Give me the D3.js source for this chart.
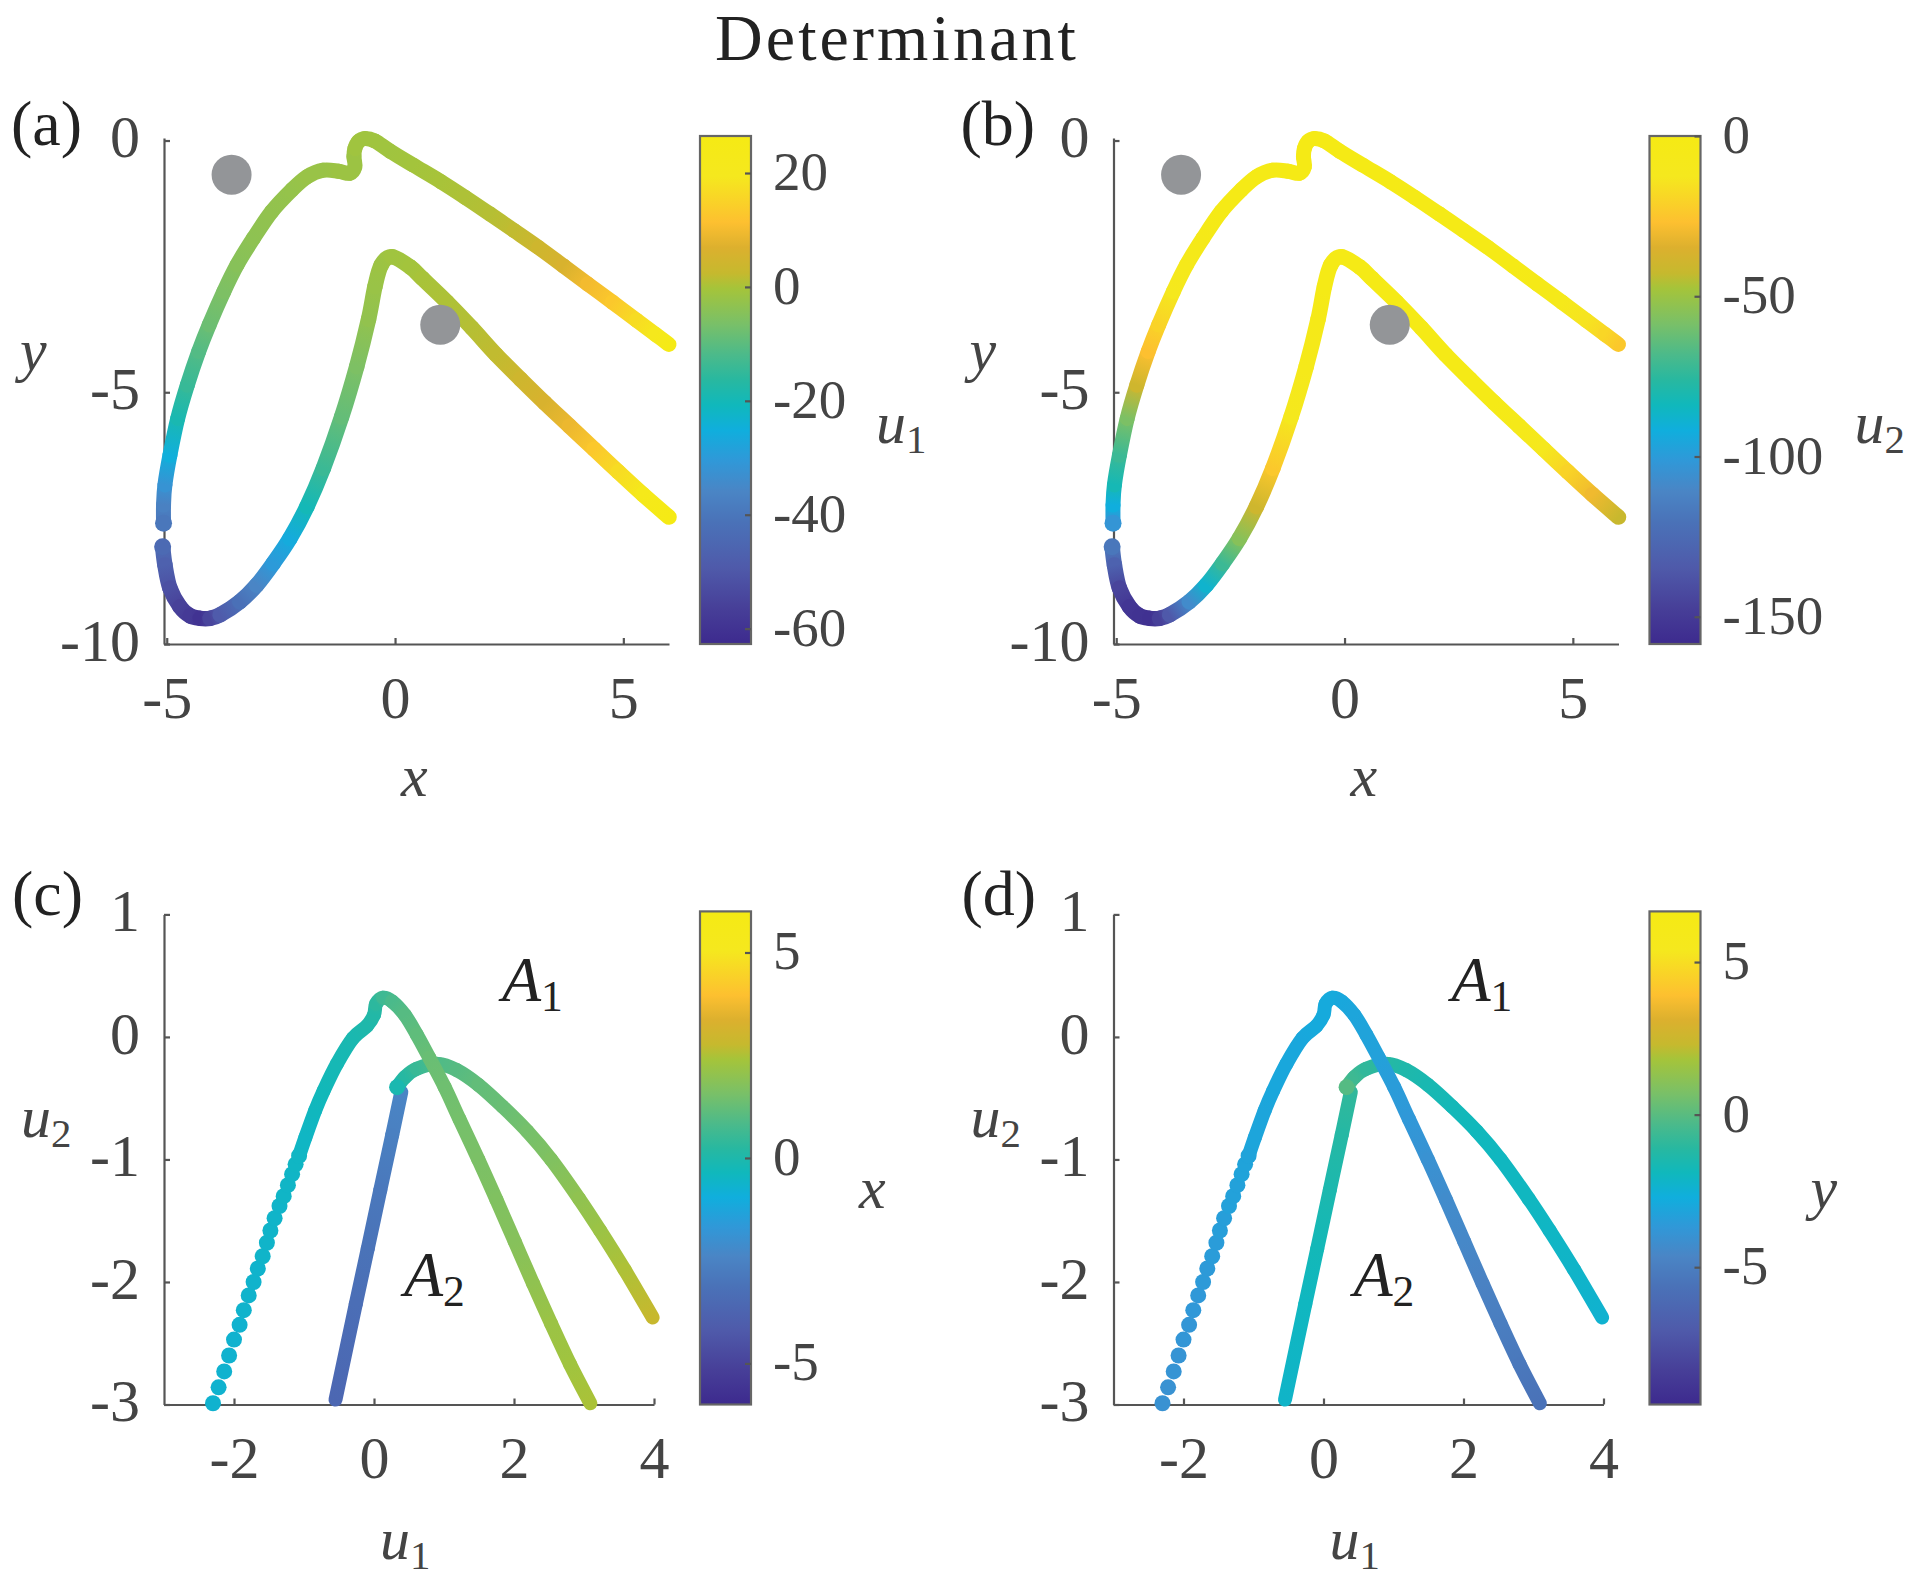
<!DOCTYPE html>
<html>
<head>
<meta charset="utf-8">
<script src="https://cdn.jsdelivr.net/npm/d3@7"></script>
<style>
  body { margin: 0; background: #fff; }
  text { font-family: "Liberation Serif", serif; fill: #444; }
</style>
</head>
<body>
<svg width="1920" height="1580"></svg>
<script>
// upper branch, panels (a) and (b)
const upperX = [-5.07,-5.07,-5.04,-4.93,-4.76,-4.55,-4.30,-4.07,-3.75,-3.46,-3.10,-2.70,-2.26,-1.93,-1.57,-1.24,-0.99,-0.88,-0.90,-0.88,-0.80,-0.66,-0.44,-0.11,0.40,1.01,1.54,2.08,2.61,3.15,3.69,4.22,4.76,5.29,5.70,6.00];
const upperY = [-7.60,-7.24,-6.84,-6.25,-5.52,-4.86,-4.19,-3.66,-3.00,-2.47,-1.94,-1.41,-0.98,-0.72,-0.59,-0.61,-0.65,-0.52,-0.32,-0.16,-0.02,0.04,-0.01,-0.21,-0.49,-0.82,-1.13,-1.46,-1.79,-2.13,-2.49,-2.85,-3.21,-3.57,-3.85,-4.05];
const upperU1 = [-40,-37,-32,-25,-19,-14.5,-11,-8,-6,-4.5,-3.5,-3,-2.5,-2,-2,-1.5,-1.5,-1.5,-1.5,-1,-1,-1,-1,-1,-0.5,0,0.5,1,2,4,6,10,13,17,21,25];
const upperU2 = [-103,-92,-82,-72,-58,-40,-27,-20,-11,-7,-5,-3,-2,-2,-2,-1,-1,-1,-1,-1,-1,-1,-1,-1,-1,-1,-2,-2,-2,-2,-3,-4,-8,-14,-19,-24];

// lower branch, panels (a) and (b)
const lowerX = [-5.09,-5.04,-4.93,-4.71,-4.49,-4.27,-4.05,-3.83,-3.40,-3.03,-2.67,-2.30,-1.93,-1.57,-1.17,-0.84,-0.58,-0.44,-0.30,-0.07,0.33,0.60,1.14,1.68,2.21,2.75,3.28,3.82,4.36,4.89,5.43,6.00];
const lowerY = [-8.07,-8.43,-8.89,-9.26,-9.44,-9.49,-9.49,-9.42,-9.16,-8.83,-8.40,-7.90,-7.27,-6.51,-5.49,-4.49,-3.55,-2.90,-2.47,-2.31,-2.51,-2.74,-3.21,-3.72,-4.25,-4.74,-5.21,-5.67,-6.13,-6.58,-7.03,-7.48];
const lowerU1 = [-44,-47,-52,-56,-58,-60,-55,-49,-42,-36,-30,-26,-20,-14,-9,-6,-3,-2,-1.5,-1,-0.5,0,0.5,1,2,4,6,9,13,17,22,26];
const lowerU2 = [-118,-130,-145,-152,-154,-155,-147,-135,-108,-88,-72,-55,-40,-24,-12,-8,-5,-3,-3,-2,-2,-2,-2,-2,-3,-3,-3,-6,-11,-20,-30,-42];

// separate dots at the bottom left of panels (c) and (d)
const dotsU1 = [-2.30,-2.22,-2.14,-2.07,-2.00,-1.92,-1.86,-1.79,-1.72,-1.66,-1.59,-1.53,-1.48,-1.42,-1.35,-1.29,-1.23,-1.17,-1.12,-1.07];
const dotsU2 = [-2.99,-2.86,-2.73,-2.60,-2.47,-2.35,-2.23,-2.11,-2.00,-1.89,-1.79,-1.68,-1.58,-1.48,-1.38,-1.30,-1.21,-1.12,-1.04,-0.97];
const dotsX = [-0.7,-0.7,-0.7,-0.7,-0.7,-0.7,-0.65,-0.65,-0.65,-0.65,-0.6,-0.6,-0.6,-0.6,-0.6,-0.55,-0.55,-0.55,-0.5,-0.5];
const dotsY = [-4.0,-4.0,-3.9,-3.9,-3.8,-3.8,-3.7,-3.7,-3.6,-3.6,-3.5,-3.5,-3.4,-3.4,-3.3,-3.3,-3.3,-3.2,-3.2,-3.2];

// arc over the top of panels (c) and (d)
const arcU1 = [-1.07,-0.98,-0.84,-0.72,-0.53,-0.30,-0.10,0.00,0.03,0.13,0.26,0.44,0.61,0.79,1.01,1.22,1.49,1.75,2.01,2.27,2.53,2.80,3.09];
const arcU2 = [-0.97,-0.82,-0.60,-0.44,-0.22,-0.01,0.09,0.18,0.27,0.32,0.29,0.18,0.02,-0.17,-0.41,-0.67,-1.00,-1.33,-1.67,-2.01,-2.34,-2.67,-2.99];
const arcX = [-0.5,-0.5,-0.4,-0.3,-0.2,-0.1,0,0.1,0.3,0.6,0.8,1.0,1.15,1.3,1.4,1.5,1.6,1.7,1.8,2.0,2.2,2.3,2.45];
const arcY = [-3.1,-3.1,-3.1,-3.0,-3.0,-3.0,-2.9,-2.9,-2.9,-2.9,-3.0,-3.1,-3.2,-3.3,-3.5,-3.7,-4.0,-4.3,-4.5,-4.8,-5.0,-5.3,-5.6];

// hook going down to the right
const hookU1 = [0.33,0.44,0.61,0.92,1.18,1.49,1.84,2.19,2.53,2.93,3.23,3.58,3.98];
const hookU2 = [-0.41,-0.33,-0.26,-0.22,-0.27,-0.39,-0.57,-0.77,-1.00,-1.32,-1.58,-1.90,-2.29];
const hookX = [-0.1,0.2,0.5,0.9,1.0,1.2,1.3,1.5,1.7,2.0,2.2,2.5,2.8];
const hookY = [-0.1,-0.6,-0.9,-1.2,-1.4,-1.6,-1.8,-1.9,-2.0,-2.0,-2.1,-2.2,-2.4];

// straight stem
const stemU1 = [0.39,0.26,0.09,-0.09,-0.26,-0.55];
const stemU2 = [-0.45,-0.80,-1.25,-1.73,-2.18,-2.96];
const stemX = [-2.4,-2.6,-2.9,-3.1,-3.3,-3.6];
const stemY = [-0.9,-1.2,-1.5,-1.8,-2.0,-2.2];

// grey markers in (a) and (b)
const markerX = [-3.58, 0.99];
const markerY = [-0.68, -3.66];

// axis ticks
const xyTicksX = [-5, 0, 5];
const xyTicksY = [0, -5, -10];
const uTicksX = [-2, 0, 2, 4];
const uTicksY = [1, 0, -1, -2, -3];

// colour bars
const barA = { domain: [-62.7, 26.5], ticks: [20, 0, -20, -40, -60] };
const barB = { domain: [-158.5, 0], ticks: [0, -50, -100, -150] };
const barC = { domain: [-6, 6], ticks: [5, 0, -5] };
const barD = { domain: [-9.5, 6.66], ticks: [5, 0, -5] };

const mapStops = [0,0.08,0.17,0.22,0.27,0.30,0.37,0.43,0.48,0.53,0.58,0.64,0.70,0.76,0.85,0.93,1];
const mapColors = ["#f5ea14","#f5e81e","#fdc030","#dcb02e","#c6b92e","#a5c43a","#79c068","#4cba8a","#28b8a0","#10b8bc","#10aedd","#3098d8","#4a85c5","#4a72b8","#4f5aaa","#473f98","#3d2a8e"];

const svg = d3.select("svg");
const defs = svg.append("defs");
const axisFont = 60;
const barFont = 55;
const mathFont = 60;
const dotR = 8;
const offsetB = 949.5;
let gradId = 0;

function makeColor(bar) {
  const frac = d3.scaleLinear().domain([bar.domain[1], bar.domain[0]]).range([0, 1]);
  const map = d3.scaleLinear().domain(mapStops).range(mapColors);
  return v => map(frac(v));
}

// one coloured path: every piece is a Catmull-Rom bezier with its own gradient
function drawPath(g, xs, ys, vs, x, y, color, width) {
  const pts = xs.map((d, i) => [x(d), y(ys[i])]);
  for (let i = 0; i < pts.length - 1; i++) {
    const id = "seg" + gradId++;
    const p0 = pts[Math.max(i - 1, 0)], p1 = pts[i], p2 = pts[i + 1], p3 = pts[Math.min(i + 2, pts.length - 1)];
    const c1 = [p1[0] + (p2[0] - p0[0]) / 6, p1[1] + (p2[1] - p0[1]) / 6];
    const c2 = [p2[0] - (p3[0] - p1[0]) / 6, p2[1] - (p3[1] - p1[1]) / 6];
    const grad = defs.append("linearGradient").attr("id", id)
      .attr("gradientUnits", "userSpaceOnUse")
      .attr("x1", p1[0]).attr("y1", p1[1]).attr("x2", p2[0]).attr("y2", p2[1]);
    grad.append("stop").attr("offset", 0).attr("stop-color", color(vs[i]));
    grad.append("stop").attr("offset", 1).attr("stop-color", color(vs[i + 1]));
    g.append("path")
      .attr("d", `M${p1}C${c1} ${c2} ${p2}`)
      .attr("fill", "none")
      .attr("stroke", `url(#${id})`)
      .attr("stroke-width", width)
      .attr("stroke-linecap", "round");
  }
}

function drawDot(g, px, py, fill, r) {
  g.append("circle").attr("cx", px).attr("cy", py).attr("r", r).attr("fill", fill);
}

function styleAxis(a, size) {
  a.selectAll("path, line").attr("stroke", "#555").attr("stroke-width", 2.2);
  a.selectAll("text").attr("font-size", size).style("fill", "#444");
}

function axes(g, x, y, ticksX, ticksY) {
  const bottom = g.append("g").attr("transform", `translate(0,${y.range()[0]})`)
    .call(d3.axisBottom(x).tickValues(ticksX).tickFormat(String).tickSize(-6).tickSizeOuter(0).tickPadding(31));
  const left = g.append("g").attr("transform", `translate(${x.range()[0]},0)`)
    .call(d3.axisLeft(y).tickValues(ticksY).tickFormat(String).tickSize(-6).tickSizeOuter(0).tickPadding(24));
  styleAxis(bottom, axisFont);
  styleAxis(left, axisFont);
  left.selectAll("text").attr("dy", "0.27em");
}

function colorbar(g, bar, top, bottom) {
  const id = "bar" + gradId++;
  const grad = defs.append("linearGradient").attr("id", id).attr("x1", 0).attr("y1", 0).attr("x2", 0).attr("y2", 1);
  mapStops.forEach((s, i) => grad.append("stop").attr("offset", s).attr("stop-color", mapColors[i]));
  g.append("rect").attr("x", 700).attr("y", top).attr("width", 51).attr("height", bottom - top)
    .attr("fill", `url(#${id})`).attr("stroke", "#666").attr("stroke-width", 2.2);
  const scale = d3.scaleLinear().domain(bar.domain).range([bottom, top]);
  const a = g.append("g").attr("transform", "translate(751,0)")
    .call(d3.axisRight(scale).tickValues(bar.ticks).tickFormat(String).tickSize(-6).tickSizeOuter(0).tickPadding(22));
  a.select(".domain").remove();
  styleAxis(a, barFont);
  a.selectAll("text").attr("dy", "0.3em");
}

function mathLabel(g, px, py, name, sub, size = mathFont, fill = "#444") {
  const t = g.append("text").attr("x", px).attr("y", py).attr("font-size", size)
    .attr("font-style", "italic").style("fill", fill).text(name);
  if (sub) {
    t.append("tspan").attr("font-style", "normal").attr("font-size", size * 0.68)
      .attr("dy", size * 0.16).text(sub);
  }
  return t;
}

function panelLabel(g, px, py, s) {
  g.append("text").attr("x", px).attr("y", py).attr("font-size", 64).style("fill", "#222").text(s);
}

function xyPanel(dx, name, upperV, lowerV, bar, cbName, cbSub, cbX) {
  const g = svg.append("g").attr("transform", `translate(${dx},0)`);
  const x = d3.scaleLinear().domain([-5.06, 6]).range([164, 669]);
  const y = d3.scaleLinear().domain([-10, 0.05]).range([644, 138]);
  const color = makeColor(bar);
  axes(g, x, y, xyTicksX, xyTicksY);
  drawPath(g, lowerX, lowerY, lowerV, x, y, color, 15.5);
  drawPath(g, upperX, upperY, upperV, x, y, color, 15);
  drawDot(g, x(upperX[0]), y(upperY[0]), color(upperV[0]), 8.5);
  drawDot(g, x(lowerX[0]), y(lowerY[0]), color(lowerV[0]), 8.5);
  g.selectAll("circle.marker").data(markerX).enter().append("circle").attr("class", "marker")
    .attr("cx", d => x(d)).attr("cy", (d, i) => y(markerY[i])).attr("r", 20).attr("fill", "#939598");
  colorbar(g, bar, 136, 644);
  panelLabel(g, 11, 145, name);
  mathLabel(g, 401, 796, "x");
  mathLabel(g, 20, 370, "y");
  mathLabel(g, cbX, 443, cbName, cbSub);
}

function uPanel(dx, name, dotsV, arcV, hookV, stemV, bar, cbName, cbX) {
  const g = svg.append("g").attr("transform", `translate(${dx},0)`);
  const x = d3.scaleLinear().domain([-3, 4]).range([164, 654]);
  const y = d3.scaleLinear().domain([-3, 1]).range([1404.5, 914.4]);
  const color = makeColor(bar);
  axes(g, x, y, uTicksX, uTicksY);
  drawPath(g, stemU1, stemU2, stemV, x, y, color, 14);
  drawPath(g, hookU1, hookU2, hookV, x, y, color, 14);
  drawDot(g, x(hookU1[0]), y(hookU2[0]), color(hookV[0]), dotR);
  drawPath(g, arcU1, arcU2, arcV, x, y, color, 14);
  g.selectAll("circle.dot").data(dotsU1).enter().append("circle").attr("class", "dot")
    .attr("cx", d => x(d)).attr("cy", (d, i) => y(dotsU2[i])).attr("r", dotR)
    .attr("fill", (d, i) => color(dotsV[i]));
  colorbar(g, bar, 911.4, 1404.5);
  panelLabel(g, 12, 915, name);
  mathLabel(g, 380, 1559, "u", "1");
  mathLabel(g, 21, 1137, "u", "2");
  mathLabel(g, cbX, 1208, cbName);
  mathLabel(g, 502, 1001, "A", "1", 64, "#222");
  mathLabel(g, 404, 1296, "A", "2", 64, "#222");
}

svg.append("text").attr("x", 715).attr("y", 60).attr("font-size", 66)
  .attr("letter-spacing", 3.1)
  .style("fill", "#222").text("Determinant");

xyPanel(0, "(a)", upperU1, lowerU1, barA, "u", "1", 876);
xyPanel(offsetB, "(b)", upperU2, lowerU2, barB, "u", "2", 905);
uPanel(0, "(c)", dotsX, arcX, hookX, stemX, barC, "x", 859);
uPanel(offsetB, "(d)", dotsY, arcY, hookY, stemY, barD, "y", 861);
</script>
</body>
</html>
